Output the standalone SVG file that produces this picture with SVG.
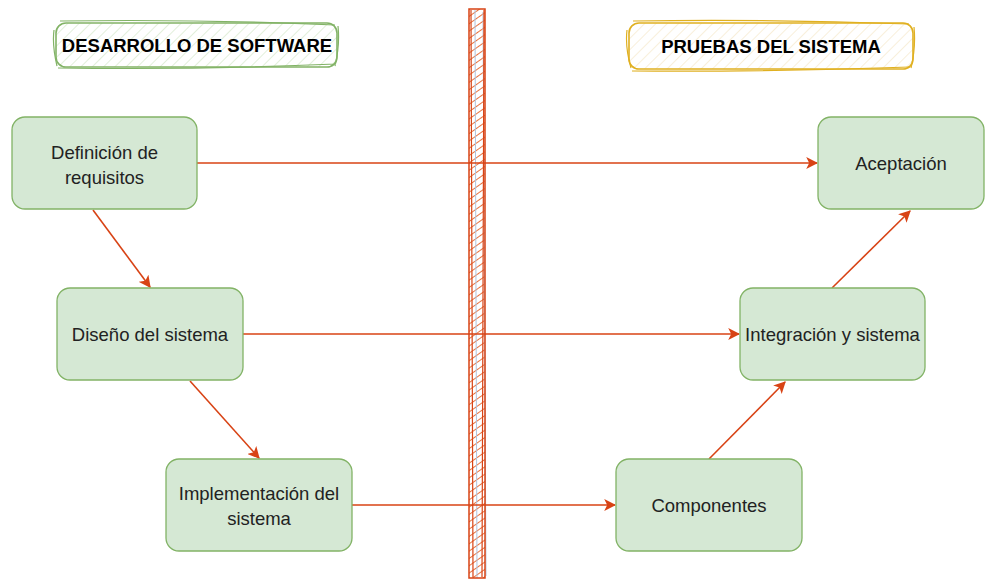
<svg xmlns="http://www.w3.org/2000/svg" width="993" height="585" viewBox="0 0 993 585">
<defs>
<style>
.node rect{fill:#d5e8d4;stroke:#82b366;stroke-width:1.3}
.node text{font-family:"Liberation Sans",Arial,sans-serif;font-size:18.5px;fill:#222;text-anchor:middle}
.edge{stroke:#d84315;stroke-width:1.6;fill:none;marker-end:url(#arr)}
.title{font-family:"Liberation Sans",Arial,sans-serif;font-size:18.5px;font-weight:bold;fill:#000;text-anchor:middle}
</style>
<marker id="arr" viewBox="0 0 10 10" refX="9" refY="5" markerWidth="12" markerHeight="12" orient="auto" markerUnits="userSpaceOnUse">
<path d="M0,0 L10,5 L0,10 L2.5,5 Z" fill="#d84315"/>
</marker>
<pattern id="hatchG" patternUnits="userSpaceOnUse" width="8" height="8" patternTransform="rotate(45)">
<line x1="0" y1="0" x2="0" y2="8" stroke="#c5dfb8" stroke-width="1"/>
</pattern>
<pattern id="hatchY" patternUnits="userSpaceOnUse" width="8" height="8" patternTransform="rotate(45)">
<line x1="0" y1="0" x2="0" y2="8" stroke="#f1dfb8" stroke-width="1"/>
</pattern>
<pattern id="hatchR" patternUnits="userSpaceOnUse" width="6" height="6" patternTransform="rotate(55)">
<line x1="0" y1="0" x2="0" y2="6" stroke="#e5632a" stroke-width="1.8"/>
</pattern>
</defs>
<rect width="993" height="585" fill="#fff"/>

<g id="label-desarrollo">
<rect x="56" y="23" width="281" height="44" rx="10" fill="url(#hatchG)" stroke="#82b366" stroke-width="1.6"/>
<path d="M60,21 Q200,19 335,25 M54,30 Q52,45 57,66 M58,68 Q200,70 336,64 M338,26 Q340,45 335,66" stroke="#82b366" stroke-width="1.2" fill="none"/>
<text class="title" x="197" y="52">DESARROLLO DE SOFTWARE</text>
</g>

<g id="label-pruebas">
<rect x="629" y="23" width="284" height="46" rx="10" fill="url(#hatchY)" stroke="#e0b020" stroke-width="1.6"/>
<path d="M633,21 Q770,19 909,24 M627,30 Q625,47 631,68 M632,71 Q770,72 910,67 M914,27 Q916,47 911,68" stroke="#e0b020" stroke-width="1.2" fill="none"/>
<text class="title" x="771" y="53">PRUEBAS DEL SISTEMA</text>
</g>

<g id="barrier">
<rect x="469" y="9" width="16" height="569" fill="url(#hatchR)"/>
<line x1="475" y1="10" x2="477" y2="578" stroke="#b0c4de" stroke-width="1"/>
<line x1="483" y1="12" x2="486" y2="576" stroke="#b0c4de" stroke-width="1"/>
<rect x="469" y="9" width="16" height="569" fill="none" stroke="#d84315" stroke-width="1.5"/>
<path d="M471,10 L473,577 M484,10 L482,577" stroke="#d84315" stroke-width="1.2" fill="none"/>
</g>

<g id="connectors">
<line class="edge" x1="197" y1="163" x2="817" y2="163"/>
<line class="edge" x1="243" y1="334" x2="739" y2="334"/>
<line class="edge" x1="352" y1="505" x2="615" y2="505"/>
<line class="edge" x1="93" y1="210" x2="150" y2="287"/>
<line class="edge" x1="190" y1="381" x2="259" y2="458"/>
<line class="edge" x1="709" y1="459" x2="785" y2="382"/>
<line class="edge" x1="832" y1="288" x2="910" y2="211"/>
</g>

<g id="n-def" class="node">
<rect x="12" y="117" width="185" height="92" rx="13"/>
<text x="104.5" y="159">Definición de</text>
<text x="104.5" y="184">requisitos</text>
</g>
<g id="n-dis" class="node">
<rect x="57" y="288" width="186" height="92" rx="13"/>
<text x="150" y="341">Diseño del sistema</text>
</g>
<g id="n-imp" class="node">
<rect x="166" y="459" width="186" height="92" rx="13"/>
<text x="259" y="500">Implementación del</text>
<text x="259" y="525">sistema</text>
</g>
<g id="n-comp" class="node">
<rect x="616" y="459" width="186" height="92" rx="13"/>
<text x="709" y="512">Componentes</text>
</g>
<g id="n-int" class="node">
<rect x="740" y="288" width="185" height="92" rx="13"/>
<text x="832.5" y="341">Integración y sistema</text>
</g>
<g id="n-acep" class="node">
<rect x="818" y="117" width="166" height="92" rx="13"/>
<text x="901" y="170">Aceptación</text>
</g>
</svg>
